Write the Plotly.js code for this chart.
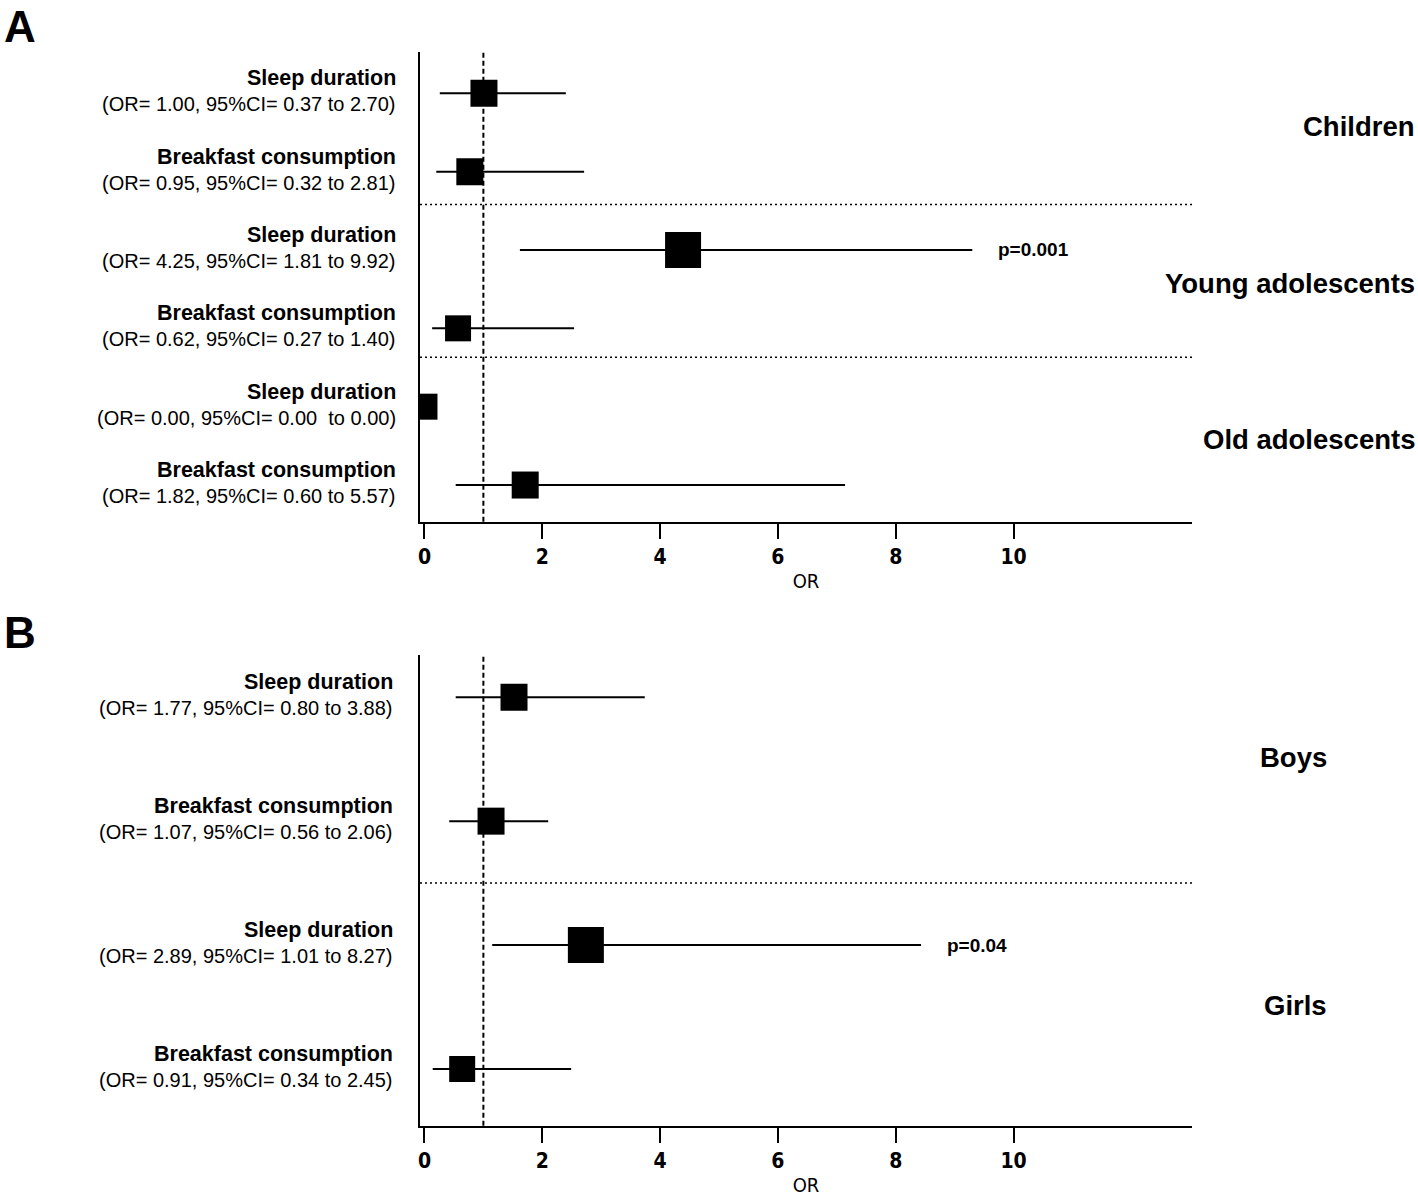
<!DOCTYPE html>
<html>
<head>
<meta charset="utf-8">
<script src="https://cdn.plot.ly/plotly-3.0.1.min.js"></script>
<style>
  body { margin: 0; background: white; }
  #myDiv { width: 1418px; height: 1202px; }
</style>
</head>
<body>
<div id="myDiv"></div>
<script>
// ---- panel A : age groups ----
var groupsA = ['Children', 'Young adolescents', 'Old adolescents'];
var factorsA = ['Sleep duration', 'Breakfast consumption', 'Sleep duration', 'Breakfast consumption', 'Sleep duration', 'Breakfast consumption'];
var labelsA = [
  '(OR= 1.00, 95%CI= 0.37 to 2.70)',
  '(OR= 0.95, 95%CI= 0.32 to 2.81)',
  '(OR= 4.25, 95%CI= 1.81 to 9.92)',
  '(OR= 0.62, 95%CI= 0.27 to 1.40)',
  '(OR= 0.00, 95%CI= 0.00  to 0.00)',
  '(OR= 1.82, 95%CI= 0.60 to 5.57)'
];
// OR and CI as they are drawn in the figure
var orA = [1.01, 0.77, 4.39, 0.57, 0.00, 1.71];
var loA = [0.26, 0.20, 1.62, 0.13, 0.00, 0.53];
var hiA = [2.40, 2.71, 9.30, 2.54, 0.00, 7.14];
var pA  = ['', '', 'p=0.001', '', '', ''];

// ---- panel B : sex ----
var groupsB = ['Boys', 'Girls'];
var factorsB = ['Sleep duration', 'Breakfast consumption', 'Sleep duration', 'Breakfast consumption'];
var labelsB = [
  '(OR= 1.77, 95%CI= 0.80 to 3.88)',
  '(OR= 1.07, 95%CI= 0.56 to 2.06)',
  '(OR= 2.89, 95%CI= 1.01 to 8.27)',
  '(OR= 0.91, 95%CI= 0.34 to 2.45)'
];
var orB = [1.52, 1.13, 2.74, 0.64];
var loB = [0.53, 0.42, 1.15, 0.14];
var hiB = [3.74, 2.10, 8.43, 2.49];
var pB  = ['', '', 'p=0.04', ''];

var xTicks = [0, 2, 4, 6, 8, 10];

// ---- styling ----
var W = 1418, H = 1202;
var FONT = 'Liberation Sans, Arial, sans-serif';
var NARROW = 'Liberation Sans Narrow, DejaVu Sans Condensed, Liberation Sans, sans-serif';
var sizeA = [27, 27, 36, 26, 26, 27];
var sizeB = [27, 27, 36, 26];

function idx(arr) { return arr.map(function (_, i) { return i; }); }

function forestTrace(or, lo, hi, sizes, xa, ya) {
  return {
    type: 'scatter', mode: 'markers',
    x: or, y: idx(or), xaxis: xa, yaxis: ya,
    marker: { symbol: 'square', color: 'black', opacity: 1, size: sizes, line: { width: 0 } },
    error_x: {
      type: 'data', symmetric: false,
      array: hi.map(function (h, i) { return h - or[i]; }),
      arrayminus: lo.map(function (l, i) { return or[i] - l; }),
      width: 0, thickness: 2, color: 'black'
    },
    hoverinfo: 'skip', showlegend: false
  };
}

var data = [
  forestTrace(orA, loA, hiA, sizeA, 'x', 'y'),
  forestTrace(orB, loB, hiB, sizeB, 'x2', 'y2')
];

function xAxis(anchor) {
  return {
    anchor: anchor,
    domain: [420 / W, 1192 / W],
    range: [-0.076, 13.03],
    showline: true, linewidth: 2, linecolor: 'black',
    ticks: 'outside', ticklen: 15, tickwidth: 2, tickcolor: 'black',
    tickvals: xTicks,
    tickfont: { family: NARROW, size: 21, color: 'black', weight: 'bold' },
    showgrid: false, zeroline: false,
    title: { text: 'OR', font: { family: NARROW, size: 20, color: 'black' }, standoff: 6 }
  };
}

function yAxis(anchor, top, bottom, n, r0, r1) {
  return {
    anchor: anchor,
    domain: [1 - bottom / H, 1 - top / H],
    range: [r1, r0],
    showline: true, linewidth: 2, linecolor: 'black',
    ticks: 'outside', ticklen: 20, tickwidth: 2, tickcolor: 'black',
    tickvals: idx(new Array(n)), showticklabels: false,
    showgrid: false, zeroline: false
  };
}

var shapes = [];
var annotations = [];

function panel(xa, ya, factors, labels, groups, or, hi, pv, labelShift, groupX, groupShift, sepShift) {
  var xr = xa === 'x' ? 'x' : 'x2';
  var yr = ya === 'y' ? 'y' : 'y2';
  // reference line at OR = 1
  shapes.push({
    type: 'line', xref: xr, yref: yr + ' domain', x0: 1, x1: 1, y0: 0, y1: 1,
    line: { color: 'black', width: 2, dash: '5px,3px' }
  });
  // dotted separators between groups
  for (var g = 0; g < groups.length - 1; g++) {
    var ys = 2 * g + 1.5 + sepShift[g];
    shapes.push({
      type: 'line', xref: xr + ' domain', yref: yr, x0: 0, x1: 1, y0: ys, y1: ys,
      line: { color: 'black', width: 1.5, dash: '2px,3px' }
    });
  }
  for (var i = 0; i < factors.length; i++) {
    annotations.push({
      xref: xr + ' domain', yref: yr, x: 0, y: i, xanchor: 'right', yanchor: 'middle',
      xshift: labelShift, yshift: 15, showarrow: false, text: factors[i],
      font: { family: FONT, size: 21.5, color: 'black', weight: 'bold' }
    });
    annotations.push({
      xref: xr + ' domain', yref: yr, x: 0, y: i, xanchor: 'right', yanchor: 'middle',
      xshift: labelShift, yshift: -11, showarrow: false, text: labels[i],
      font: { family: FONT, size: 20, color: 'black' }
    });
    if (pv[i]) {
      annotations.push({
        xref: xr, yref: yr, x: hi[i], y: i, xanchor: 'left', yanchor: 'middle',
        xshift: 24, showarrow: false, text: pv[i],
        font: { family: FONT, size: 19, color: 'black', weight: 'bold' }
      });
    }
  }
  for (var k = 0; k < groups.length; k++) {
    annotations.push({
      xref: 'paper', yref: yr, x: groupX, y: 2 * k + 0.5, xanchor: 'right', yanchor: 'middle',
      yshift: groupShift, showarrow: false, text: groups[k],
      font: { family: FONT, size: 27.5, color: 'black', weight: 'bold' }
    });
  }
}

panel('x', 'y', factorsA, labelsA, groupsA, orA, hiA, pA, -22, 1417 / W, 6, [-0.08, -0.13]);
panel('x2', 'y2', factorsB, labelsB, groupsB, orB, hiB, pB, -25, 1329 / W, 2, [0]);

// panel letters
annotations.push({
  xref: 'paper', yref: 'paper', x: 0, y: 1, xanchor: 'left', yanchor: 'top',
  xshift: 2, showarrow: false, text: 'A',
  font: { family: FONT, size: 44, color: 'black', weight: 'bold' }
});
annotations.push({
  xref: 'paper', yref: 'paper', x: 0, y: 1 - 606 / H, xanchor: 'left', yanchor: 'top',
  xshift: 2, showarrow: false, text: 'B',
  font: { family: FONT, size: 44, color: 'black', weight: 'bold' }
});

var layout = {
  width: W, height: H,
  margin: { l: 0, r: 0, t: 0, b: 0 },
  paper_bgcolor: 'white', plot_bgcolor: 'white',
  font: { family: FONT, color: 'black' },
  showlegend: false,
  xaxis: xAxis('y'),
  yaxis: yAxis('x', 52, 521.7, orA.length, -0.527, 5.468),
  xaxis2: xAxis('y2'),
  yaxis2: yAxis('x2', 655, 1125.7, orB.length, -0.341, 3.458),
  shapes: shapes,
  annotations: annotations
};

Plotly.newPlot('myDiv', data, layout, { displayModeBar: false, staticPlot: true });
</script>
</body>
</html>
